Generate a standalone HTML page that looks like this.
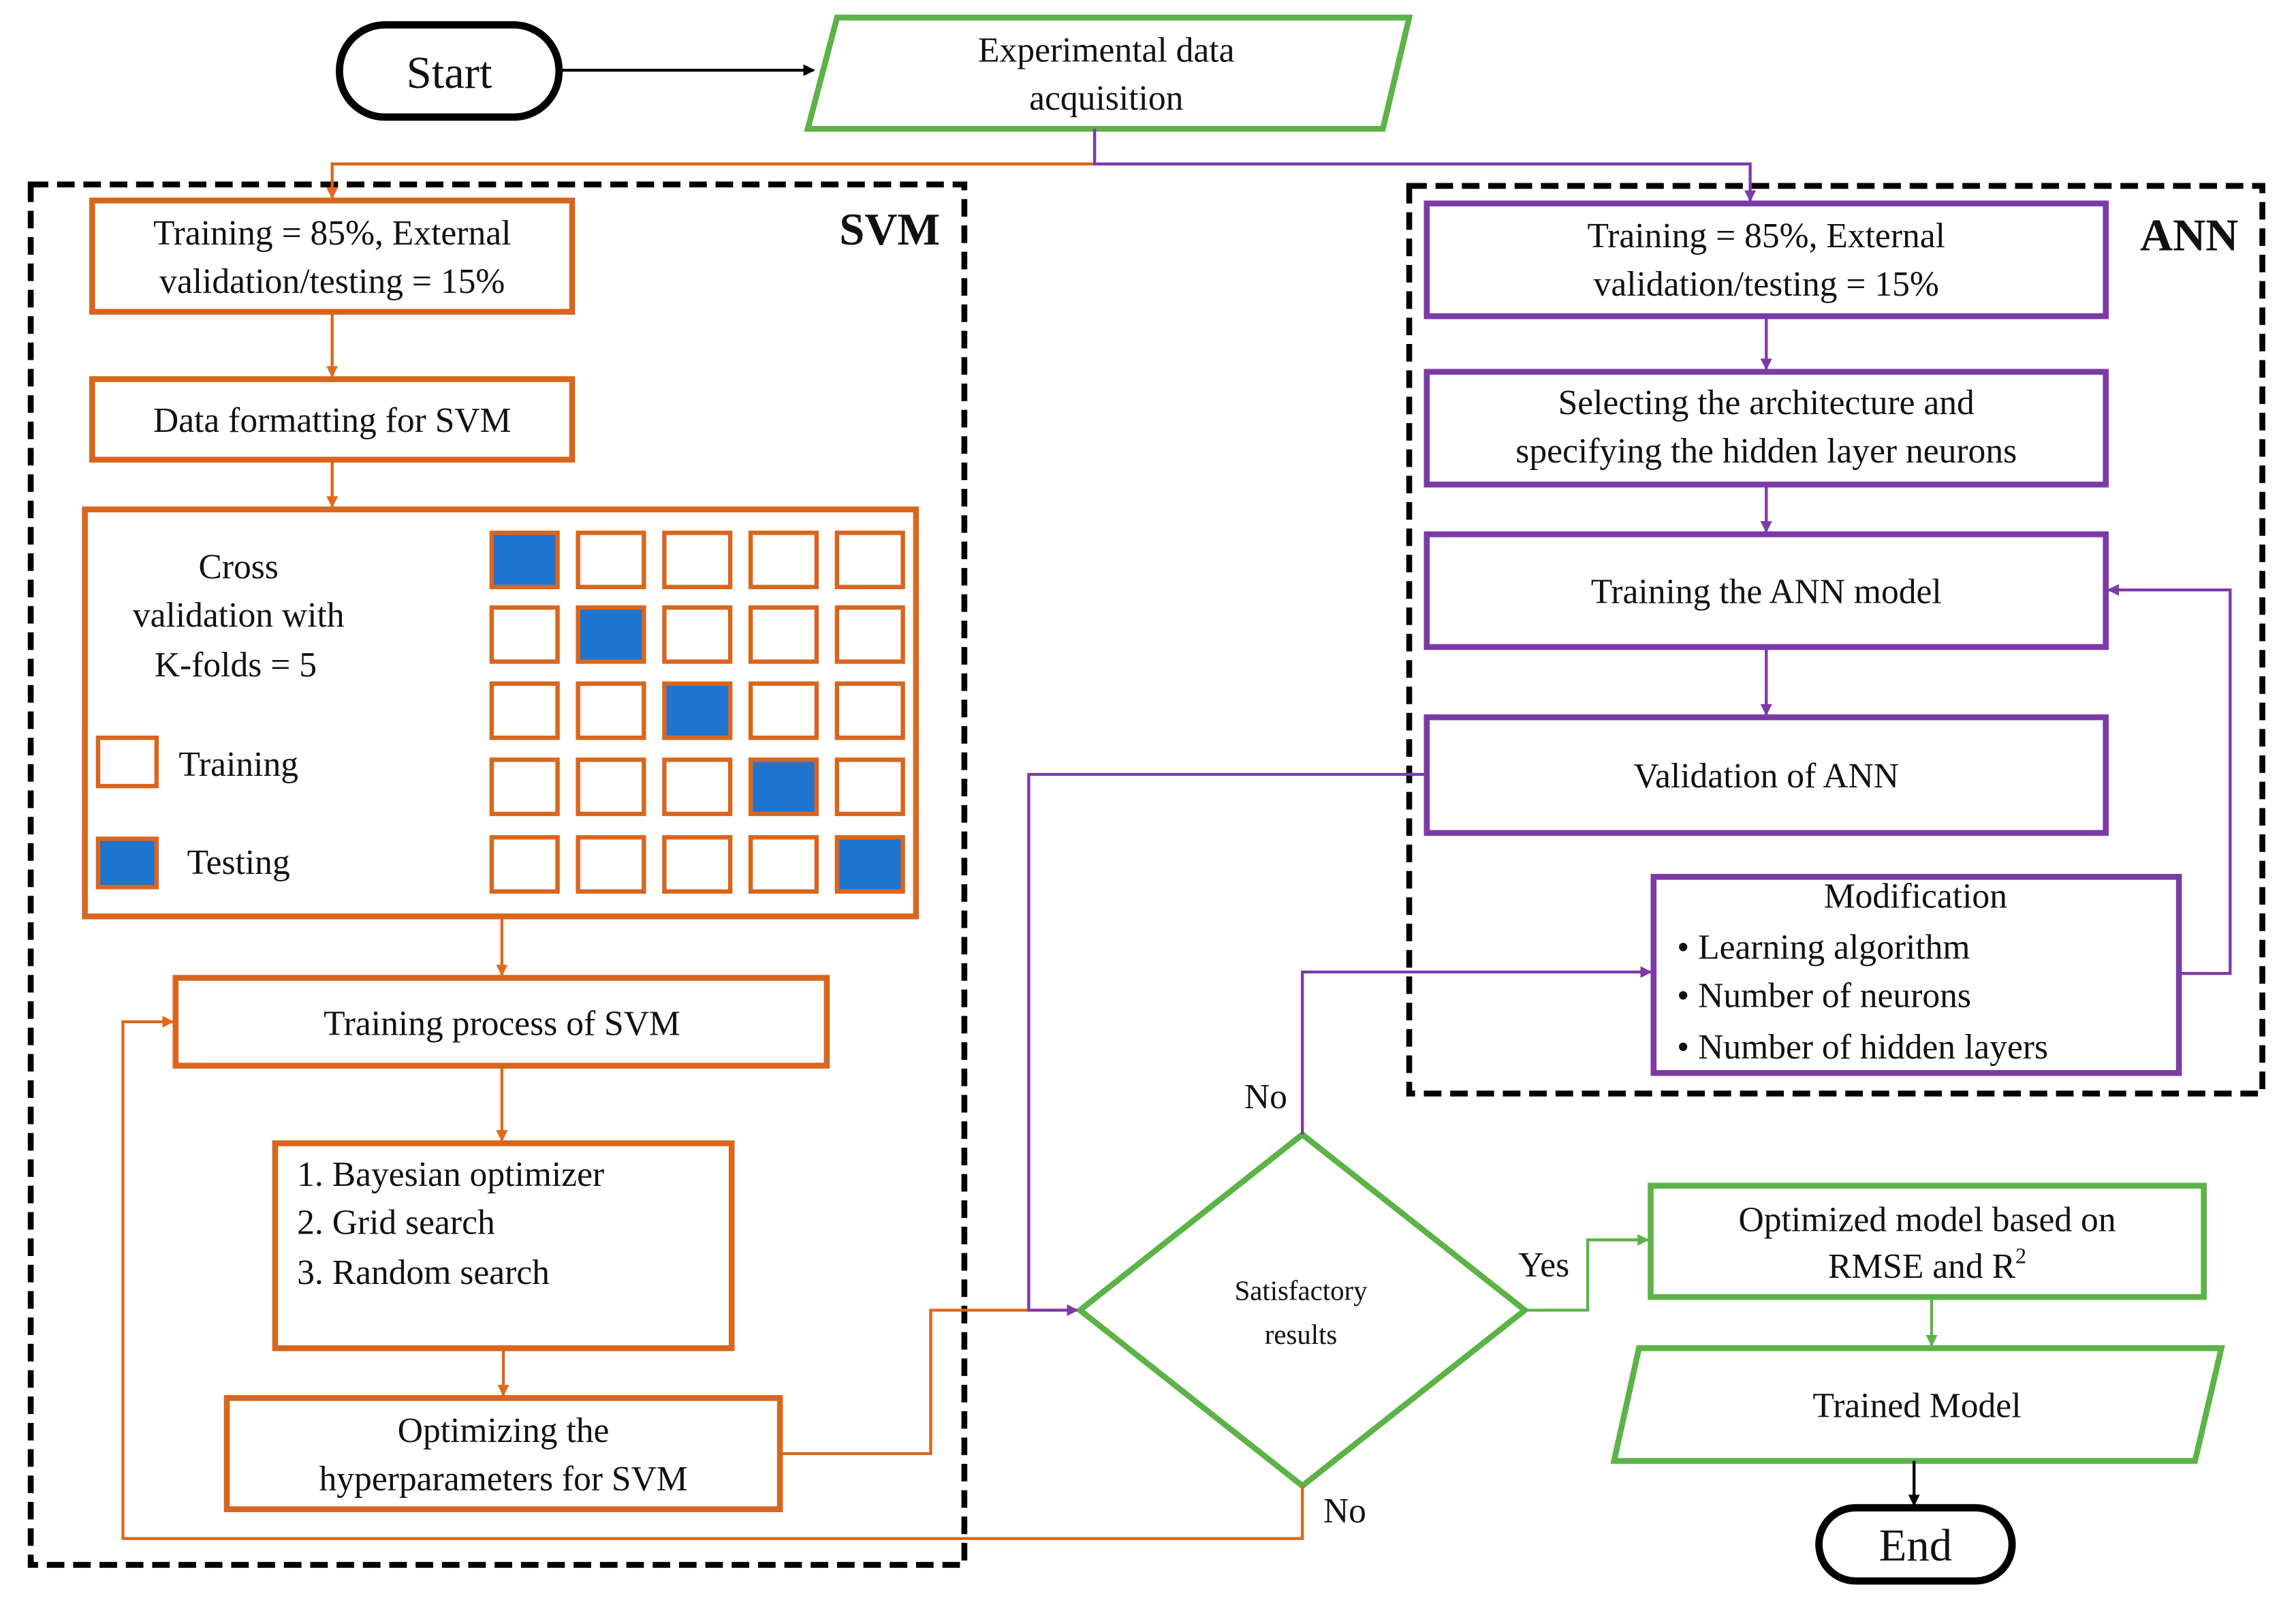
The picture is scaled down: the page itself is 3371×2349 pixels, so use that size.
<!DOCTYPE html>
<html><head><meta charset="utf-8"><style>
html,body{margin:0;padding:0;background:#fff;}
svg{display:block;}
text{font-family:"Liberation Serif",serif;fill:#111;}
</style></head><body>
<svg width="3371" height="2349" viewBox="0 0 1569 1093" preserveAspectRatio="none" xmlns="http://www.w3.org/2000/svg">
<defs>
<marker id="ak" markerWidth="8" markerHeight="8" refX="7" refY="4" orient="auto" markerUnits="userSpaceOnUse"><path d="M0,0 L8,4 L0,8z" fill="#000"/></marker>
<marker id="ao" markerWidth="8" markerHeight="8" refX="7" refY="4" orient="auto" markerUnits="userSpaceOnUse"><path d="M0,0 L8,4 L0,8z" fill="#e06a1b"/></marker>
<marker id="ap" markerWidth="8" markerHeight="8" refX="7" refY="4" orient="auto" markerUnits="userSpaceOnUse"><path d="M0,0 L8,4 L0,8z" fill="#7c3aa6"/></marker>
<marker id="ag" markerWidth="8" markerHeight="8" refX="7" refY="4" orient="auto" markerUnits="userSpaceOnUse"><path d="M0,0 L8,4 L0,8z" fill="#5cb346"/></marker>
</defs>
<g fill="none" stroke-width="4">
<rect x="21" y="126" width="638" height="943" stroke="#000" stroke-dasharray="12,6"/>
<rect x="963" y="127" width="583" height="620" stroke="#000" stroke-dasharray="12,6"/>
<rect x="232" y="17" width="150" height="63" rx="31" stroke="#000" stroke-width="5"/>
<polygon points="572,12 963,12 945,88 552,88" stroke="#5cb346"/>
<g stroke="#d9661e">
<rect x="63" y="137" width="328" height="76"/>
<rect x="63" y="259" width="328" height="55"/>
<rect x="58" y="348" width="568" height="278"/>
<rect x="120" y="668" width="445" height="60"/>
<rect x="188" y="781" width="312" height="140"/>
<rect x="155" y="955" width="378" height="76"/>
<rect x="67" y="504" width="40" height="33" stroke-width="3"/>
<rect x="67" y="573" width="40" height="33" fill="#1f74cf" stroke-width="3"/>
</g>
<g stroke="#d9661e" stroke-width="3">
<rect x="336" y="364" width="45" height="37" fill="#1f74cf"/><rect x="395" y="364" width="45" height="37"/><rect x="454" y="364" width="45" height="37"/><rect x="513" y="364" width="45" height="37"/><rect x="572" y="364" width="45" height="37"/>
<rect x="336" y="415" width="45" height="37"/><rect x="395" y="415" width="45" height="37" fill="#1f74cf"/><rect x="454" y="415" width="45" height="37"/><rect x="513" y="415" width="45" height="37"/><rect x="572" y="415" width="45" height="37"/>
<rect x="336" y="467" width="45" height="37"/><rect x="395" y="467" width="45" height="37"/><rect x="454" y="467" width="45" height="37" fill="#1f74cf"/><rect x="513" y="467" width="45" height="37"/><rect x="572" y="467" width="45" height="37"/>
<rect x="336" y="519" width="45" height="37"/><rect x="395" y="519" width="45" height="37"/><rect x="454" y="519" width="45" height="37"/><rect x="513" y="519" width="45" height="37" fill="#1f74cf"/><rect x="572" y="519" width="45" height="37"/>
<rect x="336" y="572" width="45" height="37"/><rect x="395" y="572" width="45" height="37"/><rect x="454" y="572" width="45" height="37"/><rect x="513" y="572" width="45" height="37"/><rect x="572" y="572" width="45" height="37" fill="#1f74cf"/>
</g>
<g stroke="#7c3aa6">
<rect x="975" y="139" width="464" height="77"/>
<rect x="975" y="254" width="464" height="77"/>
<rect x="975" y="365" width="464" height="77"/>
<rect x="975" y="490" width="464" height="79"/>
<rect x="1130" y="599" width="359" height="134"/>
</g>
<g stroke="#5cb346">
<polygon points="890,775 1042,895 890,1015 738,895"/>
<rect x="1128" y="810" width="378" height="76"/>
<polygon points="1120,921 1518,921 1500,998 1103,998"/>
</g>
<rect x="1243" y="1030" width="132" height="50" rx="25" stroke="#000" stroke-width="5"/>
<path d="M382,48 H556" stroke="#000" stroke-width="2" marker-end="url(#ak)"/>
<g stroke="#d9661e" stroke-width="2">
<path d="M748,88 V112 H227 V135" marker-end="url(#ao)"/>
<path d="M227,213 V257" marker-end="url(#ao)"/>
<path d="M227,314 V346" marker-end="url(#ao)"/>
<path d="M343,626 V666" marker-end="url(#ao)"/>
<path d="M343,728 V779" marker-end="url(#ao)"/>
<path d="M344,921 V953" marker-end="url(#ao)"/>
<path d="M533,993 H636 V895 H736" marker-end="url(#ao)"/>
<path d="M890,1015 V1051 H84 V698 H118" marker-end="url(#ao)"/>
</g>
<g stroke="#7c3aa6" stroke-width="2">
<path d="M748,88 V112 H1196 V137" marker-end="url(#ap)"/>
<path d="M1207,216 V252" marker-end="url(#ap)"/>
<path d="M1207,331 V363" marker-end="url(#ap)"/>
<path d="M1207,442 V488" marker-end="url(#ap)"/>
<path d="M975,529 H703 V895 H736" marker-end="url(#ap)"/>
<path d="M890,775 V664 H1128" marker-end="url(#ap)"/>
<path d="M1489,665 H1524 V403 H1441" marker-end="url(#ap)"/>
</g>
<g stroke="#5cb346" stroke-width="2">
<path d="M1042,895 H1085 V847 H1126" marker-end="url(#ag)"/>
<path d="M1320,886 V919" marker-end="url(#ag)"/>
</g>
<path d="M1308,998 V1028" stroke="#000" stroke-width="2" marker-end="url(#ak)"/>
</g>
<g font-size="24" text-anchor="middle">
<text x="307" y="60" font-size="31">Start</text>
<text x="756" y="42">Experimental  data</text>
<text x="756" y="75">acquisition</text>
<text x="227" y="167">Training  = 85%, External</text>
<text x="227" y="200">validation/testing  = 15%</text>
<text x="227" y="295">Data formatting  for SVM</text>
<text x="163" y="395">Cross</text>
<text x="163" y="428">validation  with</text>
<text x="161" y="462">K-folds = 5</text>
<text x="163" y="530">Training</text>
<text x="163" y="597">Testing</text>
<text x="343" y="707">Training  process of SVM</text>
<text x="203" y="810" text-anchor="start">1.     Bayesian  optimizer</text>
<text x="203" y="843" text-anchor="start">2.      Grid search</text>
<text x="203" y="877" text-anchor="start">3.     Random search</text>
<text x="344" y="985">Optimizing  the</text>
<text x="344" y="1018">hyperparameters for SVM</text>
<text x="608" y="167" font-size="31" font-weight="bold">SVM</text>
<text x="1496" y="171" font-size="31" font-weight="bold">ANN</text>
<text x="1207" y="169">Training  = 85%, External</text>
<text x="1207" y="202">validation/testing  = 15%</text>
<text x="1207" y="283">Selecting  the architecture and</text>
<text x="1207" y="316">specifying  the hidden layer neurons</text>
<text x="1207" y="412">Training  the ANN model</text>
<text x="1207" y="538">Validation  of ANN</text>
<text x="1309" y="620">Modification</text>
<text x="1146" y="655" text-anchor="start">•     Learning  algorithm</text>
<text x="1146" y="688" text-anchor="start">•     Number of neurons</text>
<text x="1146" y="723" text-anchor="start">•     Number of hidden layers</text>
<text x="889" y="888" font-size="19">Satisfactory</text>
<text x="889" y="918" font-size="19">results</text>
<text x="865" y="757">No</text>
<text x="919" y="1040">No</text>
<text x="1055" y="872">Yes</text>
<text x="1317" y="841">Optimized model based on</text>
<text x="1317" y="873">RMSE and R<tspan font-size="15" dy="-10">2</tspan></text>
<text x="1310" y="968">Trained Model</text>
<text x="1309" y="1066" font-size="31">End</text>
</g>
</svg>
</body></html>
